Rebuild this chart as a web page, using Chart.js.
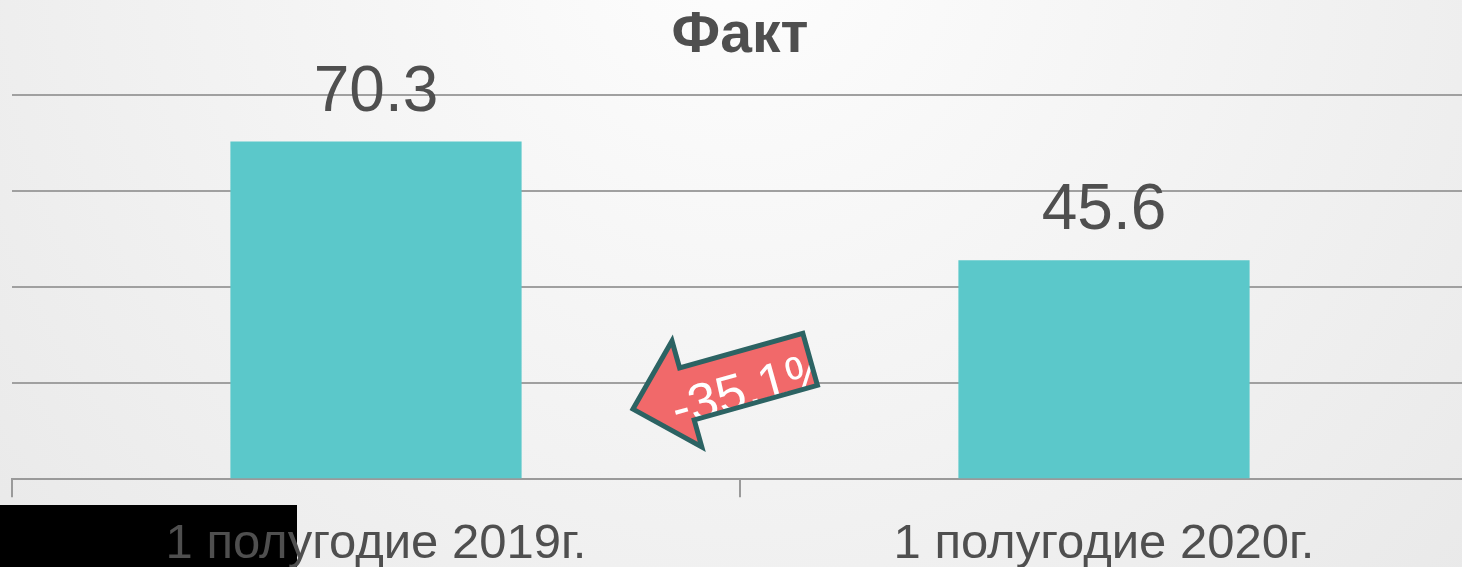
<!DOCTYPE html>
<html>
<head>
<meta charset="utf-8">
<script src="https://cdn.jsdelivr.net/npm/chart.js@4"></script>
<style>
    html, body { margin: 0; padding: 0; overflow: hidden; background: #eeeeee; }
    #wrap { position: relative; width: 1480px; height: 592px; }
</style>
</head>
<body>
<div id="wrap"><canvas id="factChart"></canvas></div>
<script>
const categories = ['1 полугодие 2019г.', '1 полугодие 2020г.'];
const factValues = [70.3, 45.6];
const yTicks = [0, 20, 40, 60, 80];
const changeLabel = '-35.1%';

const textColor = '#4f4f4f';
const gridColor = '#a0a0a0';

// gradient backdrop + the black block sitting behind the first label
const backdropPlugin = {
    id: 'backdrop',
    beforeDraw: (chart) => {
        const ctx = chart.ctx;
        const w = chart.width, h = chart.height;
        ctx.save();
        const g = ctx.createRadialGradient(w * 0.5, -60, 20, w * 0.5, -60, w * 0.85);
        g.addColorStop(0, '#fdfdfd');
        g.addColorStop(1, '#e3e3e3');
        ctx.fillStyle = g;
        ctx.fillRect(0, 0, w, h);
        ctx.fillStyle = '#000000';
        ctx.fillRect(0, 505, 297, h - 505);
        ctx.restore();
    }
};

// value labels above bars
const valueLabelPlugin = {
    id: 'valueLabels',
    afterDatasetsDraw: (chart) => {
        const ctx = chart.ctx;
        const meta = chart.getDatasetMeta(0);
        ctx.save();
        ctx.font = "64px 'Liberation Sans', Arial, sans-serif";
        ctx.fillStyle = textColor;
        ctx.textAlign = 'center';
        ctx.textBaseline = 'alphabetic';
        meta.data.forEach((bar, i) => {
            ctx.fillText(factValues[i].toFixed(1), bar.x, bar.y - 31);
        });
        ctx.restore();
    }
};

// red arrow with the change in percent
const arrowPlugin = {
    id: 'changeArrow',
    afterDraw: (chart) => {
        const ctx = chart.ctx;
        const xs = chart.scales.x, ys = chart.scales.y;
        const tipX = xs.getPixelForValue(0) + (xs.getPixelForValue(1) - xs.getPixelForValue(0)) * 0.353;
        const tipY = ys.getPixelForValue(14.6);
        const angle = -15.7 * Math.PI / 180;
        ctx.save();
        ctx.translate(tipX, tipY);
        ctx.rotate(angle);
        ctx.beginPath();
        ctx.moveTo(0, 0);
        ctx.lineTo(56, -55);
        ctx.lineTo(56, -27);
        ctx.lineTo(184, -27);
        ctx.lineTo(184, 27);
        ctx.lineTo(56, 27);
        ctx.lineTo(56, 55);
        ctx.closePath();
        ctx.fillStyle = '#f1696a';
        ctx.fill();
        ctx.save();
        ctx.clip();
        ctx.font = "52px 'Liberation Sans', Arial, sans-serif";
        ctx.fillStyle = '#ffffff';
        ctx.textAlign = 'center';
        ctx.textBaseline = 'alphabetic';
        ctx.fillText(changeLabel, 120, 29);
        ctx.restore();
        ctx.lineWidth = 5;
        ctx.lineJoin = 'miter';
        ctx.strokeStyle = '#2c6363';
        ctx.stroke();
        ctx.restore();
    }
};

const factCtx = document.getElementById('factChart').getContext('2d');

new Chart(factCtx, {
    type: 'bar',
    data: {
        labels: categories,
        datasets: [{
            label: 'Факт',
            data: factValues,
            backgroundColor: '#5bc8ca',
            borderWidth: 0,
            categoryPercentage: 1.0,
            barPercentage: 0.4
        }]
    },
    options: {
        responsive: true,
        maintainAspectRatio: false,
        animation: false,
        layout: {
            padding: { left: 12, right: 12, top: 0, bottom: 0 }
        },
        plugins: {
            legend: { display: false },
            tooltip: { enabled: false },
            title: {
                display: true,
                text: 'Факт',
                color: textColor,
                font: { family: "'Liberation Sans', Arial, sans-serif", size: 57, weight: 'bold' },
                padding: { top: 2, bottom: 24.6 }
            }
        },
        scales: {
            x: {
                grid: {
                    display: true,
                    drawOnChartArea: false,
                    drawTicks: true,
                    tickLength: 18,
                    color: '#9a9a9a',
                    lineWidth: 2,
                    offset: true
                },
                border: { display: true, color: '#9a9a9a', width: 2 },
                ticks: {
                    color: textColor,
                    padding: 18,
                    maxRotation: 0,
                    autoSkip: false,
                    font: { family: "'Liberation Sans', Arial, sans-serif", size: 49 }
                }
            },
            y: {
                min: yTicks[0],
                max: yTicks[yTicks.length - 1],
                afterBuildTicks: (axis) => {
                    axis.ticks = yTicks.map(v => ({ value: v }));
                },
                grid: {
                    color: gridColor,
                    lineWidth: 2,
                    drawTicks: false
                },
                border: { display: false },
                ticks: { display: false }
            }
        }
    },
    plugins: [backdropPlugin, valueLabelPlugin, arrowPlugin]
});
</script>
</body>
</html>
